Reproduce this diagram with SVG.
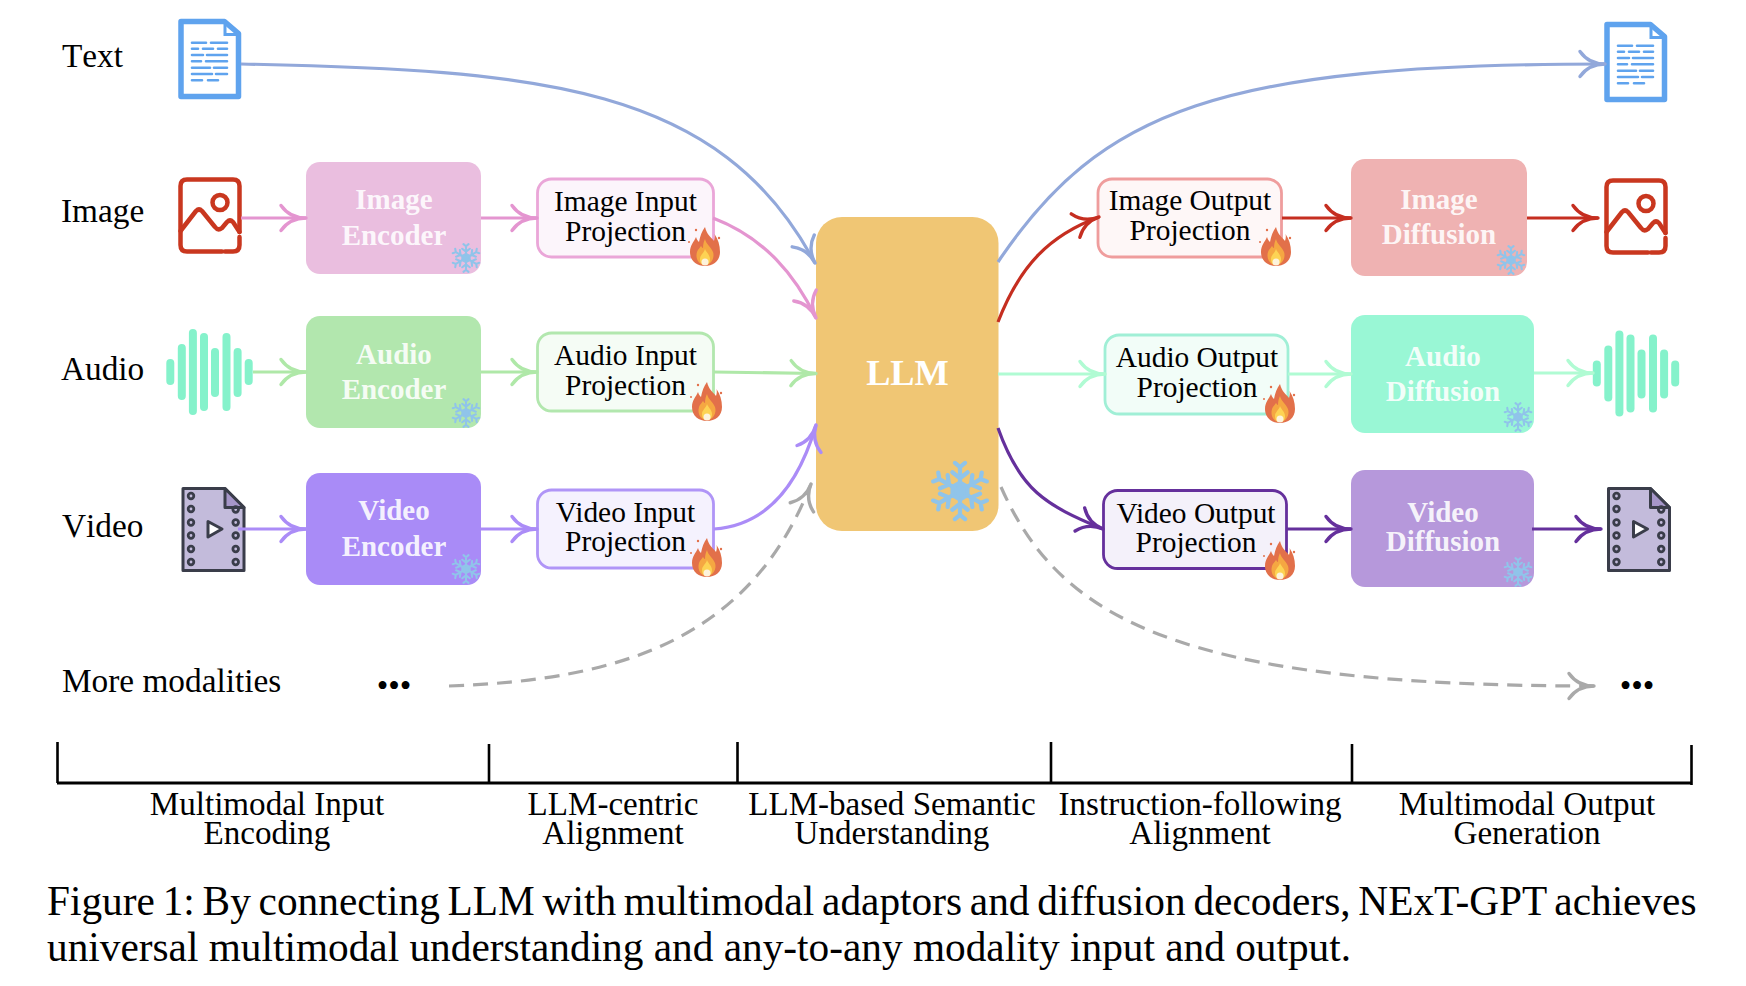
<svg xmlns="http://www.w3.org/2000/svg" width="1746" height="986" viewBox="0 0 1746 986">
<style>
text{font-family:"Liberation Serif","Times New Roman",serif;fill:#000}
.lab{font-size:33.300px;font-kerning:none}
.ctr{font-size:33.100px;text-anchor:middle}
.cap{font-size:41.300px}
.l1{word-spacing:-2.500px}
.pt{font-size:29.400px;text-anchor:middle}
.bt{font-size:29px;font-weight:bold;text-anchor:middle;fill:#fff;fill-opacity:.9}
.llm{font-size:36.300px;font-weight:bold;text-anchor:middle;fill:#fff}
.dots{font-size:33px;text-anchor:middle}
.c{fill:none;stroke-width:3.2}
.d{stroke-dasharray:15 9}
.h{fill:none;stroke-width:3.4;stroke-linecap:round;stroke-linejoin:round}
.snowp{fill:none;stroke:#90c4ea;stroke-width:5;stroke-linecap:round;stroke-linejoin:round}
.ax{stroke:#000;fill:none}
</style>
<defs>
<path id="ah" d="M-25,-12.5C-19,-4 -11,0 0,0C-11,0 -19,4 -25,12.5"/>
<marker id="m-text" markerUnits="userSpaceOnUse" viewBox="-30 -20 40 40" markerWidth="40" markerHeight="40" refX="0" refY="0" orient="auto"><use href="#ah" class="h" stroke="#92a8da"/></marker>
<marker id="m-pink" markerUnits="userSpaceOnUse" viewBox="-30 -20 40 40" markerWidth="40" markerHeight="40" refX="0" refY="0" orient="auto"><use href="#ah" class="h" stroke="#e495d0"/></marker>
<marker id="m-green" markerUnits="userSpaceOnUse" viewBox="-30 -20 40 40" markerWidth="40" markerHeight="40" refX="0" refY="0" orient="auto"><use href="#ah" class="h" stroke="#afe8a8"/></marker>
<marker id="m-purple" markerUnits="userSpaceOnUse" viewBox="-30 -20 40 40" markerWidth="40" markerHeight="40" refX="0" refY="0" orient="auto"><use href="#ah" class="h" stroke="#ab8cf7"/></marker>
<marker id="m-gray" markerUnits="userSpaceOnUse" viewBox="-30 -20 40 40" markerWidth="40" markerHeight="40" refX="0" refY="0" orient="auto"><use href="#ah" class="h" stroke="#a9a9a9"/></marker>
<marker id="m-red" markerUnits="userSpaceOnUse" viewBox="-30 -20 40 40" markerWidth="40" markerHeight="40" refX="0" refY="0" orient="auto"><use href="#ah" class="h" stroke="#c52e20"/></marker>
<marker id="m-mint" markerUnits="userSpaceOnUse" viewBox="-30 -20 40 40" markerWidth="40" markerHeight="40" refX="0" refY="0" orient="auto"><use href="#ah" class="h" stroke="#b0fbd3"/></marker>
<marker id="m-dark" markerUnits="userSpaceOnUse" viewBox="-30 -20 40 40" markerWidth="40" markerHeight="40" refX="0" refY="0" orient="auto"><use href="#ah" class="h" stroke="#65309c"/></marker>

<g id="arm"><path d="M0,-6V-28M-6,-33L0,-28L6,-33M-9,-22L0,-15L9,-22"/></g>
<g id="snow" class="snowp">
<use href="#arm"/><use href="#arm" transform="rotate(60)"/><use href="#arm" transform="rotate(120)"/><use href="#arm" transform="rotate(180)"/><use href="#arm" transform="rotate(240)"/><use href="#arm" transform="rotate(300)"/>
<path d="M0,-10L8.7,-5V5L0,10L-8.7,5V-5Z" fill="#90c4ea"/>
</g>
<g id="flame">
<path d="M0,-20C2,-12 6,-10 9,-6C10,-9 10,-11 9.500,-13C13,-8 15,-2 15,5C15,14 8,19 0,19C-8,19 -15,14 -15,5C-15,-2 -11,-5 -9,-10C-8,-7 -7,-6 -6,-5C-5,-11 -3,-16 0,-20Z" fill="#e2704a"/>
<path d="M0,-8C1,-3 6,0 8,5C10,11 6,18 0,18C-6,18 -10,12 -8,5C-7,2 -5,1 -4,-1C-3,0 -3,1 -2,1C-2,-3 -1,-6 0,-8Z" fill="#f5a742"/>
<path d="M0,2C1,5 5,8 5,12C5,16 3,18 0,18C-3,18 -5,16 -5,12C-5,8 -1,6 0,2Z" fill="#fdd354"/>
<circle cx="0" cy="15" r="3.500" fill="#fdf3dc"/>
<circle cx="-16" cy="-5" r="1" fill="#e2704a"/><circle cx="14" cy="-9" r="1.200" fill="#e2704a"/><circle cx="-9" cy="-17" r="1.200" fill="#e2704a"/>
</g>
<g id="doc">
<path d="M181,21.500H224.500L238.500,33.500V96.500H181Z" fill="#fff" stroke="#5fa3ee" stroke-width="5.500" stroke-linejoin="round"/>
<path d="M225,24V34.500H238" fill="none" stroke="#5fa3ee" stroke-width="3"/>
<g fill="none" stroke="#5fa3ee" stroke-width="2.600" stroke-linecap="round">
<path d="M192,42.700H206M211,42.700H227M192,48.700H198M203,48.700H213M218,48.700H227M192,55H203M207,55H227M192,61.300H201M206,61.300H227M192,67.700H210M214,67.700H227M192,74H212M216,74H227M192,80.300H202M208,80.300H218"/>
</g>
</g>
<g id="img" fill="none" stroke="#c9371f" stroke-width="4.500" stroke-linecap="round" stroke-linejoin="round">
<path d="M222,251.500H187Q180.500,251.500 180.500,245V186Q180.500,179.500 187,179.500H233Q239.500,179.500 239.500,186V232"/>
<path d="M225,251.500H233Q239.500,251.500 239.500,245V237"/>
<path d="M180.500,231L196,211Q199,208 202,211L215,227Q218,231 222,228L227,222Q230,219 233,222L239.500,232"/>
<circle cx="220" cy="202.500" r="7.500"/>
</g>
<g id="wave" fill="#85f2cb">
<rect x="166.300" y="359" width="8" height="26" rx="4"/><rect x="177.800" y="344" width="8" height="56" rx="4"/><rect x="188.900" y="329" width="8" height="86" rx="4"/><rect x="200" y="333" width="8" height="78" rx="4"/><rect x="211" y="348" width="8" height="49" rx="4"/><rect x="222.500" y="333" width="8" height="78" rx="4"/><rect x="233.600" y="348" width="8" height="49" rx="4"/><rect x="244.700" y="359" width="8" height="26" rx="4"/>
</g>
<g id="vid">
<path d="M183,488.500H225L244,507.500V570.500H183Z" fill="#c3bbdb" stroke="#3a3d4a" stroke-width="3" stroke-linejoin="round"/>
<path d="M225,488.500V507.500H244Z" fill="#a696c9" stroke="#3a3d4a" stroke-width="3" stroke-linejoin="round"/>
<g fill="none" stroke="#3a3d4a" stroke-width="2.800">
<circle cx="191" cy="496" r="2.800"/><circle cx="191" cy="509" r="2.800"/><circle cx="191" cy="522.500" r="2.800"/><circle cx="191" cy="535.500" r="2.800"/><circle cx="191" cy="549" r="2.800"/><circle cx="191" cy="562" r="2.800"/>
<circle cx="235.700" cy="509.500" r="2.800"/><circle cx="235.700" cy="522.500" r="2.800"/><circle cx="235.700" cy="535.500" r="2.800"/><circle cx="235.700" cy="549" r="2.800"/><circle cx="235.700" cy="562" r="2.800"/>
</g>
<path d="M208,521.500L222,529L208,537Z" fill="#fff" stroke="#3a3d4a" stroke-width="3" stroke-linejoin="round"/>
</g>
</defs>

<g id="labels">
<text class="lab" x="62" y="67">Text</text>
<text class="lab" x="61" y="222">Image</text>
<text class="lab" x="61" y="380">Audio</text>
<text class="lab" x="62" y="537">Video</text>
<text class="lab" x="62" y="692">More modalities</text>
</g>

<g id="icon-text-in"><use href="#doc"/></g>
<g id="icon-image-in"><use href="#img"/></g>
<g id="icon-audio-in"><use href="#wave"/></g>
<g id="icon-video-in"><use href="#vid"/></g>
<g id="more-in"><text class="dots" x="394" y="697">•••</text></g>

<g id="image-encoder"><rect x="306" y="162" width="175" height="112" rx="14" fill="#eabedf"/><text class="bt" x="394" y="209">Image</text><text class="bt" x="394" y="245">Encoder</text><use href="#snow" transform="translate(466 258) scale(.42)"/></g>
<g id="audio-encoder"><rect x="306" y="316" width="175" height="112" rx="14" fill="#b2e7ae"/><text class="bt" x="394" y="364">Audio</text><text class="bt" x="394" y="399">Encoder</text><use href="#snow" transform="translate(466 413) scale(.42)"/></g>
<g id="video-encoder"><rect x="306" y="473" width="175" height="112" rx="14" fill="#a98bf7"/><text class="bt" x="394" y="520">Video</text><text class="bt" x="394" y="556">Encoder</text><use href="#snow" transform="translate(466 569) scale(.42)"/></g>

<g id="image-input"><rect x="537.500" y="179" width="176" height="78" rx="14" fill="#fcf5fb" stroke="#eaa6d8" stroke-width="2.800"/><text class="pt" x="625.500" y="211">Image Input</text><text class="pt" x="625.500" y="241">Projection</text><use href="#flame" transform="translate(705 247)"/></g>
<g id="audio-input"><rect x="537.500" y="333" width="176" height="78" rx="14" fill="#f5fcf5" stroke="#b2e7ae" stroke-width="2.800"/><text class="pt" x="625.500" y="365">Audio Input</text><text class="pt" x="625.500" y="395">Projection</text><use href="#flame" transform="translate(707 402)"/></g>
<g id="video-input"><rect x="537.500" y="490" width="176" height="78" rx="14" fill="#f5f2fe" stroke="#b095f7" stroke-width="2.800"/><text class="pt" x="625.500" y="522">Video Input</text><text class="pt" x="625.500" y="551">Projection</text><use href="#flame" transform="translate(707 558)"/></g>

<g id="llm"><rect x="816" y="217" width="182.500" height="314" rx="26" fill="#f0c674"/><text class="llm" x="907.500" y="385">LLM</text><use href="#snow" transform="translate(960 491) scale(.85)"/></g>

<g id="image-output"><rect x="1098" y="179" width="183.500" height="78" rx="14" fill="#fef7f7" stroke="#ef9d9d" stroke-width="2.800"/><text class="pt" x="1190" y="210">Image Output</text><text class="pt" x="1190" y="240">Projection</text><use href="#flame" transform="translate(1276 247)"/></g>
<g id="audio-output"><rect x="1105" y="335" width="183" height="79" rx="14" fill="#f2fdf8" stroke="#a0efd6" stroke-width="2.800"/><text class="pt" x="1197" y="367">Audio Output</text><text class="pt" x="1197" y="397">Projection</text><use href="#flame" transform="translate(1280 404)"/></g>
<g id="video-output"><rect x="1103.500" y="490.500" width="183" height="78" rx="14" fill="#f4f1fa" stroke="#65309c" stroke-width="2.800"/><text class="pt" x="1196" y="523">Video Output</text><text class="pt" x="1196" y="552">Projection</text><use href="#flame" transform="translate(1280 561)"/></g>

<g id="image-diffusion"><rect x="1351" y="159" width="176" height="117" rx="14" fill="#efb2b2"/><text class="bt" x="1439" y="209">Image</text><text class="bt" x="1439" y="244">Diffusion</text><use href="#snow" transform="translate(1511 260) scale(.42)"/></g>
<g id="audio-diffusion"><rect x="1351" y="315" width="183" height="118" rx="14" fill="#99f7d5"/><text class="bt" x="1443" y="366">Audio</text><text class="bt" x="1443" y="401">Diffusion</text><use href="#snow" transform="translate(1518 417) scale(.42)"/></g>
<g id="video-diffusion"><rect x="1351" y="470" width="183" height="117" rx="14" fill="#b698db"/><text class="bt" x="1443" y="522">Video</text><text class="bt" x="1443" y="551">Diffusion</text><use href="#snow" transform="translate(1518 572) scale(.42)"/></g>

<g id="icon-text-out"><use href="#doc" transform="translate(1426 3)"/></g>
<g id="icon-image-out"><use href="#img" transform="translate(1426 1)"/></g>
<g id="icon-audio-out"><use href="#wave" transform="translate(1426.500 1.500)"/></g>
<g id="icon-video-out"><use href="#vid" transform="translate(1425.500 0)"/></g>
<g id="more-out"><text class="dots" x="1637" y="697">•••</text></g>

<g id="connectors">
<path class="c" stroke="#92a8da" marker-end="url(#m-text)" d="M241,64C540,70 720,85 815,263"/>
<path class="c" stroke="#e495d0" marker-end="url(#m-pink)" d="M241,218H306"/>
<path class="c" stroke="#e495d0" marker-end="url(#m-pink)" d="M481,218H537"/>
<path class="c" stroke="#e495d0" marker-end="url(#m-pink)" d="M713,218C765,238 795,275 816,318"/>
<path class="c" stroke="#afe8a8" marker-end="url(#m-green)" d="M253,372H306"/>
<path class="c" stroke="#afe8a8" marker-end="url(#m-green)" d="M481,372H537"/>
<path class="c" stroke="#afe8a8" marker-end="url(#m-green)" d="M714,372L816,373.500"/>
<path class="c" stroke="#ab8cf7" marker-end="url(#m-purple)" d="M238,529H306"/>
<path class="c" stroke="#ab8cf7" marker-end="url(#m-purple)" d="M481,529H537"/>
<path class="c" stroke="#ab8cf7" marker-end="url(#m-purple)" d="M714,529C770,525 800,480 816,425"/>
<path class="c d" stroke="#a9a9a9" marker-end="url(#m-gray)" d="M449,686C620,680 750,640 811,484"/>
<path class="c" stroke="#92a8da" marker-end="url(#m-text)" d="M998,262C1100,110 1220,64 1605,64"/>
<path class="c" stroke="#c52e20" marker-end="url(#m-red)" d="M998,322C1020,265 1050,235 1099,217"/>
<path class="c" stroke="#c52e20" marker-end="url(#m-red)" d="M1282,218H1351"/>
<path class="c" stroke="#c52e20" marker-end="url(#m-red)" d="M1527,218H1598"/>
<path class="c" stroke="#b0fbd3" marker-end="url(#m-mint)" d="M998,374H1105"/>
<path class="c" stroke="#b0fbd3" marker-end="url(#m-mint)" d="M1288,374H1351"/>
<path class="c" stroke="#b0fbd3" marker-end="url(#m-mint)" d="M1534,373H1593"/>
<path class="c" stroke="#65309c" marker-end="url(#m-dark)" d="M998,428C1020,490 1045,505 1103,529"/>
<path class="c" stroke="#65309c" marker-end="url(#m-dark)" d="M1287,529H1351"/>
<path class="c" stroke="#65309c" marker-end="url(#m-dark)" d="M1532,529H1601"/>
<path class="c d" stroke="#a9a9a9" marker-end="url(#m-gray)" d="M1001,487C1060,620 1180,686 1594,686"/>
</g>

<g id="axis">
<path class="ax" stroke-width="3" d="M57,783H1692"/>
<path class="ax" stroke-width="2.600" d="M57.500,742V783M489,744V783M737.500,742V783M1051,742V783M1352,744V783M1691.500,745V785"/>
<text class="ctr" x="267" y="815">Multimodal Input</text><text class="ctr" x="267" y="844">Encoding</text>
<text class="ctr" x="613" y="815">LLM-centric</text><text class="ctr" x="613" y="844">Alignment</text>
<text class="ctr" x="892" y="815">LLM-based Semantic</text><text class="ctr" x="892" y="844">Understanding</text>
<text class="ctr" x="1200" y="815">Instruction-following</text><text class="ctr" x="1200" y="844">Alignment</text>
<text class="ctr" x="1527" y="815">Multimodal Output</text><text class="ctr" x="1527" y="844">Generation</text>
</g>

<g id="caption">
<text class="cap l1" x="47" y="915">Figure 1: By connecting LLM with multimodal adaptors and diffusion decoders, NExT-GPT achieves</text>
<text class="cap" x="47" y="961">universal multimodal understanding and any-to-any modality input and output.</text>
</g>
</svg>
